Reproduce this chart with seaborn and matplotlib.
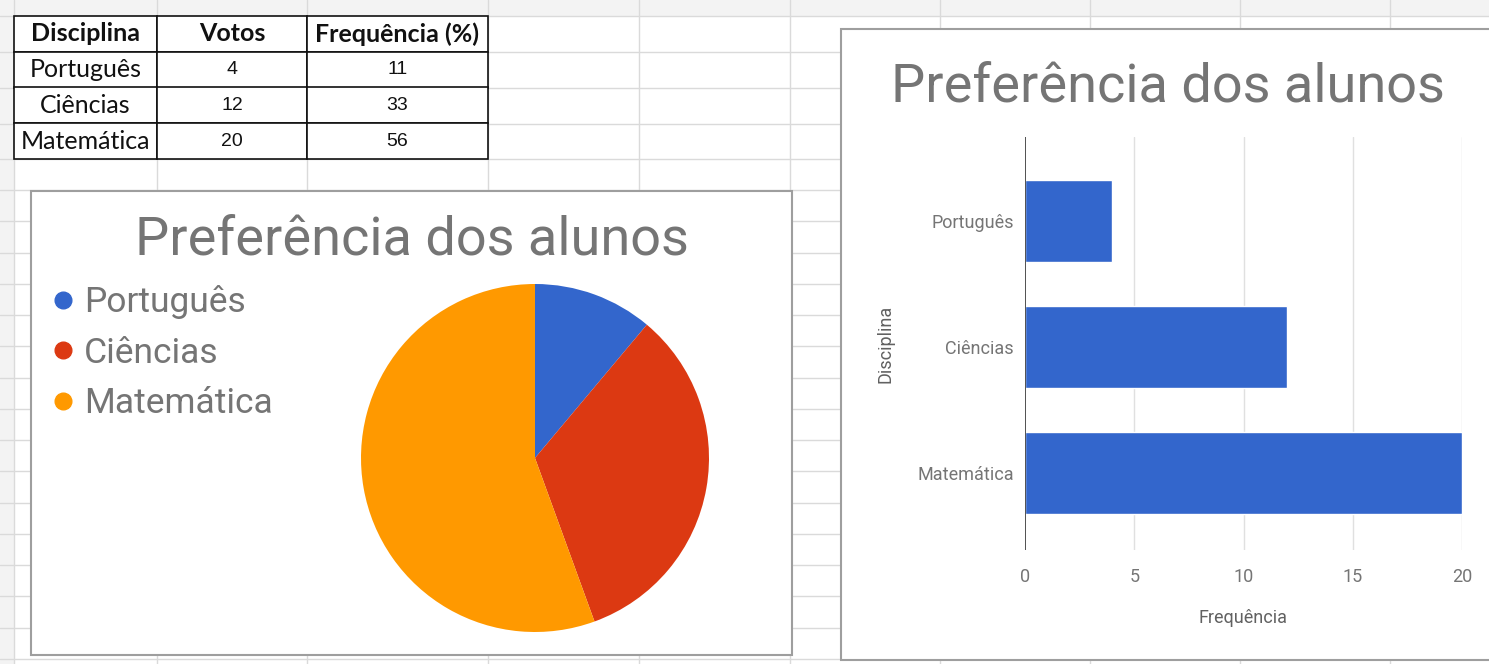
import seaborn as sns
import matplotlib.pyplot as plt
import numpy as np
import pandas as pd
from matplotlib.patches import Rectangle
from matplotlib.lines import Line2D

# dados da planilha
disciplinas = ['Português', 'Ciências', 'Matemática']
votos = [4, 12, 20]
frequencia = [11, 33, 56]
colunas = ['Disciplina', 'Votos', 'Frequência (%)']
titulo = 'Preferência dos alunos'
coresPizza = ['#3366cc', '#dc3912', '#ff9900']
corBarra = '#3366cc'

W, H = 1489, 664
sns.set_theme(style='white')
plt.rcParams['font.family'] = ['Roboto', 'DejaVu Sans']

fig = plt.figure(figsize=(W / 100, H / 100), dpi=100)

# fundo da planilha em coordenadas de pixel
bg = fig.add_axes([0, 0, 1, 1])
bg.set_xlim(0, W)
bg.set_ylim(H, 0)
bg.axis('off')

bg.add_patch(Rectangle((0, 0), W, 16, facecolor='#f3f3f3', edgecolor='none'))
bg.add_patch(Rectangle((0, 0), 14, H, facecolor='#f3f3f3', edgecolor='none'))
colX = [14, 157, 307, 488, 639, 790, 940, 1090, 1240, 1390]
for x in colX:
    bg.plot([x, x], [0, H], color='#dadada', lw=1, zorder=1)
linhasY = [16, 52, 88, 124, 159] + list(np.arange(190, H, 31.25))
for y in linhasY:
    bg.plot([0, W], [y, y], color='#dadada', lw=1, zorder=1)

# tabela
tabela = bg.table(cellText=[[d, str(v), str(f)] for d, v, f in zip(disciplinas, votos, frequencia)],
                  colLabels=colunas, cellLoc='center',
                  colWidths=[143, 150, 181],
                  bbox=[14 / W, 1 - 159 / H, (488 - 14) / W, (159 - 16) / H])
tabela.auto_set_font_size(False)
for (r, c), cell in tabela.get_celld().items():
    cell.set_edgecolor('#111111')
    cell.set_linewidth(1.2)
    cell.set_facecolor('white')
    txt = cell.get_text()
    if r == 0:
        txt.set_fontfamily(['Lato', 'DejaVu Sans'])
        txt.set_fontweight('bold')
        txt.set_fontsize(18)
    elif c == 0:
        txt.set_fontfamily(['Lato', 'DejaVu Sans'])
        txt.set_fontsize(18)
    else:
        txt.set_fontfamily(['Liberation Sans', 'DejaVu Sans'])
        txt.set_fontsize(14)
    txt.set_color('#111111')
tabela.set_zorder(3)

# paineis dos graficos
bg.add_patch(Rectangle((31, 191), 761, 464, facecolor='white', edgecolor='#9e9e9e', lw=1.5, zorder=2))
bg.add_patch(Rectangle((841, 29), 660, 631, facecolor='white', edgecolor='#9e9e9e', lw=1.5, zorder=2))
bg.text(412, 240, titulo, fontsize=39, color='#757575', ha='center', va='center', zorder=3)
bg.text(1168, 87, titulo, fontsize=39, color='#757575', ha='center', va='center', zorder=3)

# pizza
axPie = fig.add_axes([361 / W, 1 - 632 / H, 348 / W, 348 / H])
axPie.pie(votos, colors=coresPizza, startangle=90, counterclock=False,
          wedgeprops={'linewidth': 0})
axPie.set_xlim(-1, 1)
axPie.set_ylim(-1, 1)
handles = [Line2D([], [], marker='o', linestyle='', color=c, markersize=12) for c in coresPizza]
leg = fig.legend(handles, disciplinas, loc='upper left', bbox_to_anchor=(54 / W, 1 - 285 / H),
                 frameon=False, fontsize=25.5, handlelength=0.5, handletextpad=0.35,
                 labelspacing=0.5, borderaxespad=0, borderpad=0)
for t in leg.get_texts():
    t.set_color('#757575')

# barras
axBar = fig.add_axes([1025 / W, 1 - 550 / H, 437 / W, 413 / H])
df = pd.DataFrame({'Disciplina': disciplinas, 'Votos': votos})
sns.barplot(data=df, x='Votos', y='Disciplina', color=corBarra, saturation=1,
            width=0.65, ax=axBar, zorder=3)
axBar.set_xlim(0, 20)
axBar.set_ylim(2.61, -0.67)
axBar.set_xticks([0, 5, 10, 15, 20])
for x in [5, 10, 15, 20]:
    axBar.axvline(x, color='#e0e0e0', lw=1, zorder=1)
axBar.axvline(0, color='#333333', lw=1.2, zorder=4)
for s in axBar.spines.values():
    s.set_visible(False)
axBar.tick_params(axis='both', length=0, labelsize=13, labelcolor='#757575')
axBar.tick_params(axis='x', pad=13)
axBar.tick_params(axis='y', pad=8)
axBar.set_xlabel('Frequência', fontsize=13, color='#616161')
axBar.set_ylabel('Disciplina', fontsize=13, color='#616161')
axBar.xaxis.set_label_coords(0.5, -0.143)
axBar.yaxis.set_label_coords(-0.298, 0.5)

fig.savefig('out.png', dpi=100)
